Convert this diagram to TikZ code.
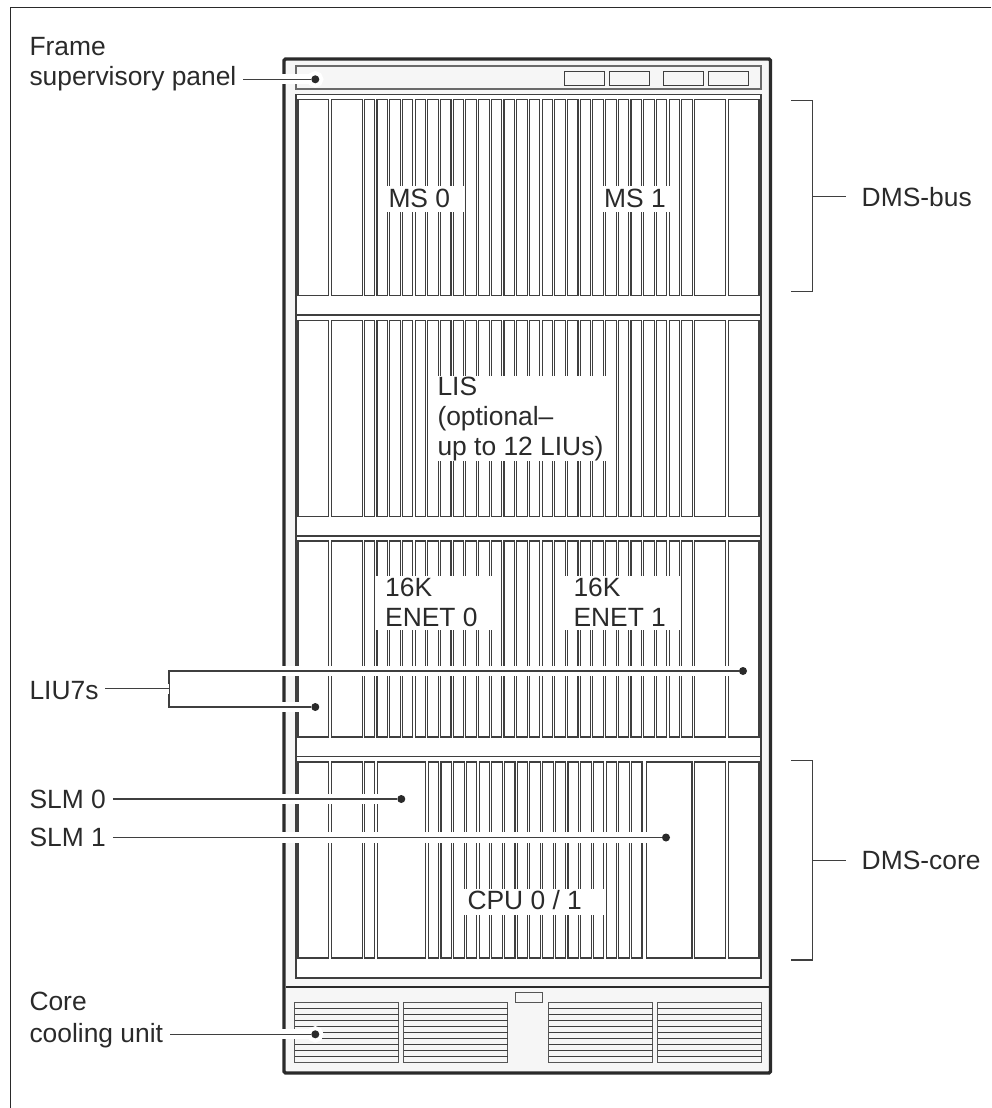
\documentclass[tikz,border=0pt]{standalone}
\usepackage{fontspec}
\setmainfont{Liberation Sans}
\usepackage{tikz}
\usetikzlibrary{positioning}
\definecolor{ink}{HTML}{2A2A2A}
\definecolor{wall}{HTML}{F6F6F6}

\begin{document}
\begin{tikzpicture}[
            x=1pt, y=-1pt,
            card/.style={draw=ink!90, line width=1.05pt, fill=white},
            shelf/.style={draw=ink!90, line width=1.15pt, fill=white},
            grille/.style={draw=ink!80, line width=1.1pt, fill=wall},
            tag/.style={anchor=base west, inner sep=0pt, outer xsep=7pt, align=left, text=ink,
                        font=\fontsize{26.4}{30}\selectfont},
            inlay/.style={anchor=base west, inner sep=0pt, align=left, text=ink,
                          font=\fontsize{26.4}{30}\selectfont},
            dot/.style={circle, fill=ink, inner sep=0pt, minimum size=8pt,
                        preaction={draw=white, line width=8pt}},
            leader/.style={draw=white, line width=4.5pt, double=ink!90, double distance=1.2pt},
            bracket/.style={draw=ink!90, line width=1.2pt}
        ]
            \useasboundingbox (0,0) rectangle (991,1108);
            \draw[draw=ink, line width=1pt] (10.5,1108) |- (991,7.5);

            % cabinet
            \draw[draw=ink, fill=wall, line width=3.4pt, rounded corners=1.5pt] (284,59) rectangle (770.5,1073);
            \draw[draw=ink!70, line width=1.3pt] (296,66) rectangle (761,89);
            \foreach \x in {564.3,609.3,663.3,708.3}
                \draw[draw=ink!90, line width=1.1pt] (\x,71.3) rectangle ++(40.4,14);

            % shelves and cards
            \draw[shelf] (296,94.3) rectangle (761,978);
            \foreach \y in {315,536,756.7}
                \draw[shelf] (296,\y) -- (761,\y);
            \foreach \y in {99.3,320.7,541,762} {
                \draw[card] (298,\y) rectangle ++(30.7,196);
                \draw[card] (331.7,\y) rectangle ++(30.6,196);
                \draw[card] (694.3,\y) rectangle ++(31,196);
                \draw[card] (728.3,\y) rectangle ++(30.7,196);
            }
            \foreach \y in {99.3,320.7,541}
                \foreach \i in {0,...,25} {
                    \pgfmathsetmacro{\x}{364.3+12.7*\i}
                    \draw[card] (\x,\y) rectangle ++(10.5,196);
                }
            \draw[card] (364.3,762) rectangle ++(10.4,196);
            \draw[card] (377.3,762) rectangle ++(48.4,196);
            \draw[card] (646.3,762) rectangle ++(45.7,196);
            \foreach \i in {0,...,16} {
                \pgfmathsetmacro{\x}{428.3+12.7*\i}
                \draw[card] (\x,762) rectangle ++(10.5,196);
            }

            % cooling unit
            \draw[draw=ink, line width=1.1pt] (286,987) -- (769,987);
            \draw[draw=ink!80, line width=1.1pt] (515.7,992.7) rectangle (542.3,1002.3);
            \foreach \x in {294.7,403.7,548.7,657.7} {
                \draw[grille] (\x,1002.3) rectangle ++(104,60);
                \foreach \k in {1,...,9}
                    \draw[draw=ink!90, line width=1.1pt] (\x,1002.3+6*\k) -- ++(104,0);
            }

            % text inside the shelves
            \fill[white] (386,186) rectangle (464.3,212);
            \fill[white] (602.3,186) rectangle (670,212);
            \fill[white] (432,375.7) rectangle (607,461);
            \fill[white] (376,575.7) rectangle (500.5,630);
            \fill[white] (564,575.7) rectangle (680.5,630);
            \fill[white] (463.3,889) rectangle (603.5,915);
            \node[inlay] (ms0) at (388.3,207.7) {MS 0};
            \node[inlay] (ms1) at (604,207.7) {MS 1};
            \node[inlay] (lis) at (437.3,455) {LIS\\(optional–\\up to 12 LIUs)};
            \node[inlay] (enet0) at (385,626) {16K\\ENET 0};
            \node[inlay] (enet1) at (573.3,626) {16K\\ENET 1};
            \node[inlay] (cpu) at (467.3,909) {CPU 0 / 1};

            % dots
            \node[dot] (dotPanel) at (315.3,79.3) {};
            \node[dot] (dotLiuA) at (743,671) {};
            \node[dot] (dotLiuB) at (315.3,707) {};
            \node[dot] (dotSlm0) at (401.3,799) {};
            \node[dot] (dotSlm1) at (666,837.5) {};
            \node[dot] (dotCool) at (315.3,1034.3) {};

            % labels on the left
            \node[tag] (lblPanel) at (22.5,85) {Frame\\supervisory panel};
            \node[tag] (lblLiu) at (22.5,699) {LIU7s};
            \node[tag] (lblSlm0) at (22.5,808.7) {SLM 0};
            \node[tag] (lblSlm1) at (22.5,846.7) {SLM 1};
            \node[tag] (lblCool) at (22.5,1042.7) {Core\\[2pt]cooling unit};
            \coordinate (forkLiu) at (169,688.7);

            \draw[leader] (lblPanel.east |- dotPanel) -- (dotPanel);
            \draw[leader] (dotLiuA) -| (forkLiu);
            \draw[leader] (dotLiuB) -| (forkLiu);
            \draw[leader] (lblLiu.east |- forkLiu) -- (forkLiu);
            \draw[leader] (lblSlm0.east |- dotSlm0) -- (dotSlm0);
            \draw[leader] (lblSlm1.east |- dotSlm1) -- (dotSlm1);
            \draw[leader] (lblCool.east |- dotCool) -- (dotCool);

            % brackets on the right
            \draw[bracket] (791.3,100.3) -| (812.3,291.7) -- (791.3,291.7);
            \draw[bracket] (791.3,760.3) -| (812.3,960) -- (791.3,960);
            \coordinate (busMid) at (812.3,196.7);
            \coordinate (coreMid) at (812.3,860.7);
            \node[tag, outer xsep=0pt, inner xsep=15.7pt, anchor=west] (lblBus) at (846,196.7) {DMS-bus};
            \node[tag, outer xsep=0pt, inner xsep=15.7pt, anchor=west] (lblCore) at (846,860.7) {DMS-core};
            \draw[bracket] (busMid) -- (lblBus);
            \draw[bracket] (coreMid) -- (lblCore);
        \end{tikzpicture}
\end{document}
